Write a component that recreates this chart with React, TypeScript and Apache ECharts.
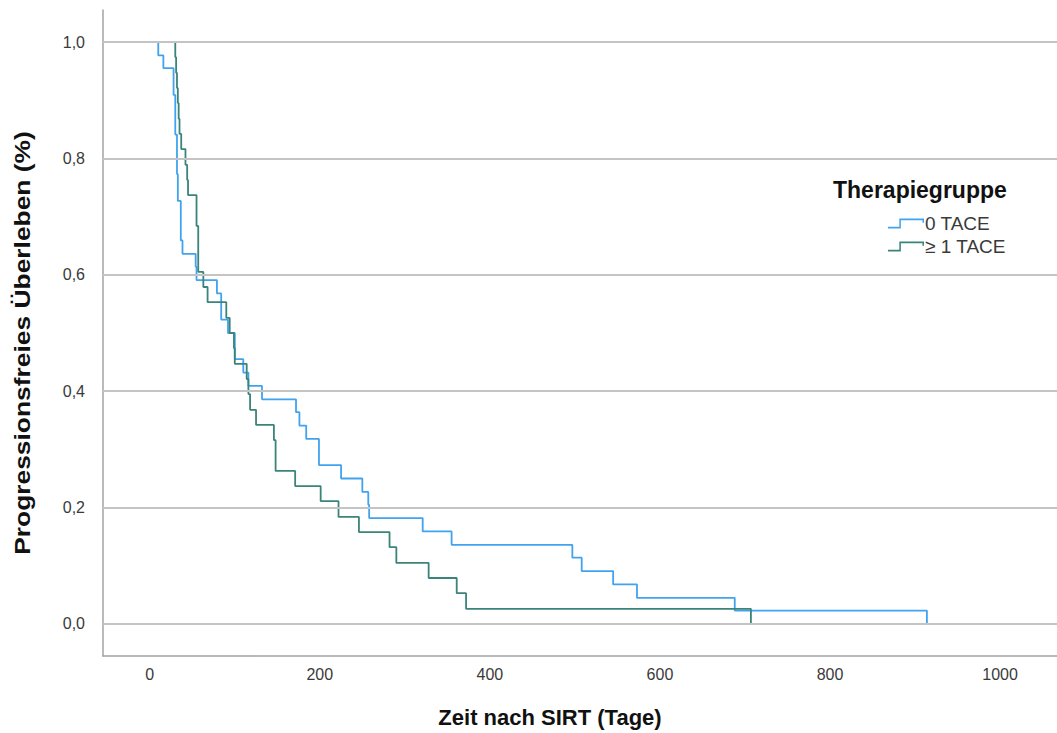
import React, { useEffect, useRef } from "react";
import * as echarts from "echarts";

const xTicks = [0, 200, 400, 600, 800, 1000];
const yTicks = [0, 0.2, 0.4, 0.6, 0.8, 1.0];

const seriesNames = ["0 TACE", "≥ 1 TACE"];

const blueTimes = [0, 10, 16, 28, 30, 32, 33, 36.5, 38.5, 54, 55, 79, 84, 92, 100, 110, 116, 132, 172, 176, 184, 199, 225, 250, 257, 258, 321, 355, 497, 508, 545, 573, 688, 914];
const blueSurv = [1, 0.977, 0.955, 0.909, 0.841, 0.773, 0.727, 0.659, 0.636, 0.614, 0.591, 0.568, 0.523, 0.5, 0.455, 0.432, 0.409, 0.386, 0.364, 0.341, 0.318, 0.273, 0.25, 0.227, 0.205, 0.182, 0.159, 0.136, 0.114, 0.091, 0.068, 0.045, 0.023, 0];

const greenTimes = [0, 30, 31, 32, 33, 34, 35, 37, 42, 44, 45, 55, 57, 63, 68, 90, 94, 99, 100, 114, 116, 118, 125, 146, 148, 171, 201, 222, 246, 282, 290, 328, 361, 372, 707];
const greenSurv = [1, 0.974, 0.947, 0.921, 0.895, 0.868, 0.842, 0.816, 0.789, 0.763, 0.737, 0.684, 0.605, 0.579, 0.553, 0.526, 0.5, 0.474, 0.447, 0.421, 0.395, 0.368, 0.342, 0.316, 0.263, 0.237, 0.211, 0.184, 0.158, 0.132, 0.105, 0.079, 0.053, 0.026, 0];

const BLUE = "#41a3ef";
const GREEN = "#3b847a";
const FONT = '"Liberation Sans", Arial, Helvetica, sans-serif';

export default function App() {
  const ref = useRef<HTMLDivElement>(null);
  useEffect(() => {
    if (!ref.current) return;
    const chart = echarts.init(ref.current, undefined, { renderer: "svg" });
    const zip = (t: number[], s: number[]) => t.map((v, i) => [v, s[i]]);
    const stepIcon = "path://M0,8L11,8L11,0L35,0L35,4L33.5,4L33.5,1.5L12.5,1.5L12.5,9.5L0,9.5Z";
    chart.setOption({
      animation: false,
      backgroundColor: "#ffffff",
      textStyle: { fontFamily: FONT },
      grid: { left: 103, right: 0, top: 10, bottom: 77, containLabel: false },
      xAxis: {
        type: "value",
        min: -55,
        max: 1067,
        axisLine: { show: true, onZero: false, lineStyle: { color: "#a3a3a3", width: 1.5 } },
        axisTick: { show: false },
        splitLine: { show: false },
        axisLabel: {
          customValues: xTicks,
          fontSize: 16,
          color: "#3a3a3a",
          margin: 10,
          fontFamily: FONT,
          formatter: (v: number) => String(v),
        },
      },
      yAxis: {
        type: "value",
        min: -0.055,
        max: 1.055,
        axisLine: { show: true, onZero: false, lineStyle: { color: "#a3a3a3", width: 1.5 } },
        axisTick: { show: false },
        splitLine: { show: false },
        axisLabel: {
          customValues: yTicks,
          fontSize: 16,
          color: "#3a3a3a",
          margin: 18,
          fontFamily: FONT,
          formatter: (v: number) => v.toFixed(1).replace(".", ","),
        },
      },
      legend: {
        orient: "vertical",
        left: 883,
        top: 209,
        itemWidth: 36,
        itemHeight: 10,
        itemGap: 4,
        icon: stepIcon,
        data: seriesNames,
        itemStyle: { borderWidth: 0 },
        textStyle: { fontSize: 19, color: "#3a3a3a", fontFamily: FONT, lineHeight: 19, padding: [0, 0, 0, -4] },
      },
      graphic: [
        {
          type: "text",
          x: 550,
          y: 717,
          style: {
            text: "Zeit nach SIRT (Tage)",
            font: `bold 22px ${FONT}`,
            fill: "#111111",
            align: "center",
            verticalAlign: "middle",
          },
        },
        {
          type: "text",
          x: 22,
          y: 343,
          rotation: Math.PI / 2,
          scaleX: 1.2,
          style: {
            text: "Progressionsfreies Überleben (%)",
            font: `bold 22px ${FONT}`,
            fill: "#111111",
            align: "center",
            verticalAlign: "middle",
          },
        },
        {
          type: "text",
          x: 833,
          y: 190,
          style: {
            text: "Therapiegruppe",
            font: `bold 23px ${FONT}`,
            fill: "#111111",
            align: "left",
            verticalAlign: "middle",
          },
        },
      ],
      series: [
        {
          name: "grid",
          type: "line",
          data: [],
          silent: true,
          z: 1,
          markLine: {
            silent: true,
            symbol: "none",
            label: { show: false },
            lineStyle: { color: "#c4c4c4", width: 1.8, type: "solid" },
            data: yTicks.map((v) => ({ yAxis: v })),
          },
        },
        {
          name: seriesNames[0],
          type: "line",
          step: "end",
          data: zip(blueTimes, blueSurv),
          showSymbol: false,
          symbol: "none",
          color: BLUE,
          lineStyle: { color: BLUE, width: 1.8 },
          z: 3,
        },
        {
          name: seriesNames[1],
          type: "line",
          step: "end",
          data: zip(greenTimes, greenSurv),
          showSymbol: false,
          symbol: "none",
          color: GREEN,
          lineStyle: { color: GREEN, width: 1.8 },
          z: 4,
        },
      ],
    });
    return () => chart.dispose();
  }, []);
  return (
    <div
      ref={ref}
      style={{ position: "absolute", left: 0, top: 0, width: 1057, height: 733 }}
    />
  );
}
